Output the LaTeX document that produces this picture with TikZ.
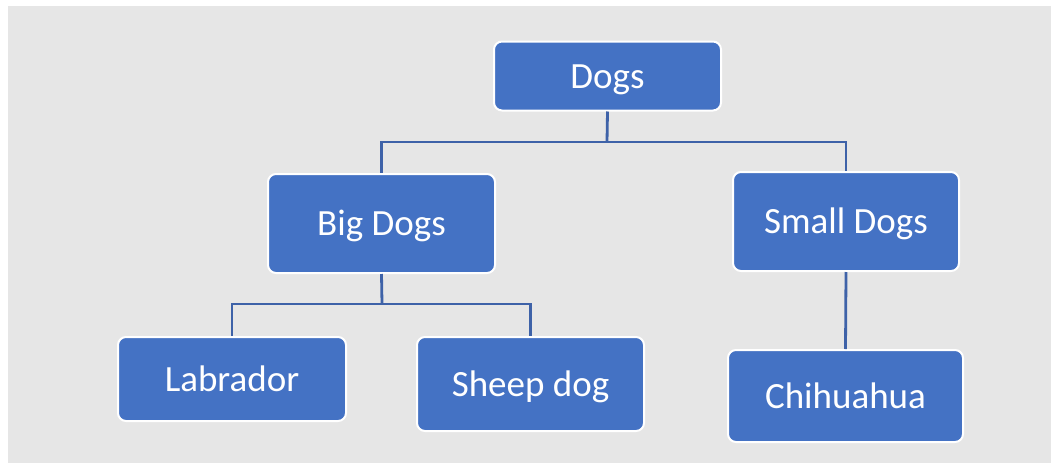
\documentclass[tikz,border=0pt]{standalone}
\usepackage{fontspec}
\setmainfont{Carlito}
\definecolor{bgray}{RGB}{230,230,230}
\definecolor{boxblue}{RGB}{68,114,196}
\definecolor{lineblue}{RGB}{62,98,168}
\tikzset{
  orgbox/.style={draw=white, line width=2pt, fill=boxblue, rounded corners=8pt,
    text=white, font=\fontsize{37}{44}\selectfont, inner sep=0pt,
    text height=24pt, text depth=0pt, align=center},
  conn/.style={draw=lineblue, line width=2.8pt}
}
\begin{document}
\begin{tikzpicture}[x=1pt,y=-1pt]
\useasboundingbox (0,0) rectangle (1051,463);
\fill[bgray] (8,6) rectangle (1051,463);
\coordinate (j1) at (607,142);
\coordinate (j2) at (382,304);
\node[orgbox, minimum width=227pt, minimum height=69pt] (dogs) at (607.5,76) {Dogs};
\node[orgbox, minimum width=227pt, minimum height=99pt] (big) at (381.5,223.5) {Big Dogs};
\node[orgbox, minimum width=226pt, minimum height=99pt] (small) at (846,221.5) {Small Dogs};
\node[orgbox, minimum width=228pt, minimum height=84pt] (lab) at (232,379) {Labrador};
\node[orgbox, minimum width=227pt, minimum height=94pt] (sheep) at (530.5,384) {Sheep dog};
\node[orgbox, minimum width=235pt, minimum height=92pt] (chi) at (845.5,396) {Chihuahua};
\draw[conn] (dogs.south) -- (j1);
\draw[conn] (j1) -| (big.north);
\draw[conn] (j1) -| (small.north);
\draw[conn] (big.south) -- (j2);
\draw[conn] (j2) -| (lab.north);
\draw[conn] (j2) -| (sheep.north);
\draw[conn] (small.south) -- (chi.north);
\end{tikzpicture}
\end{document}
